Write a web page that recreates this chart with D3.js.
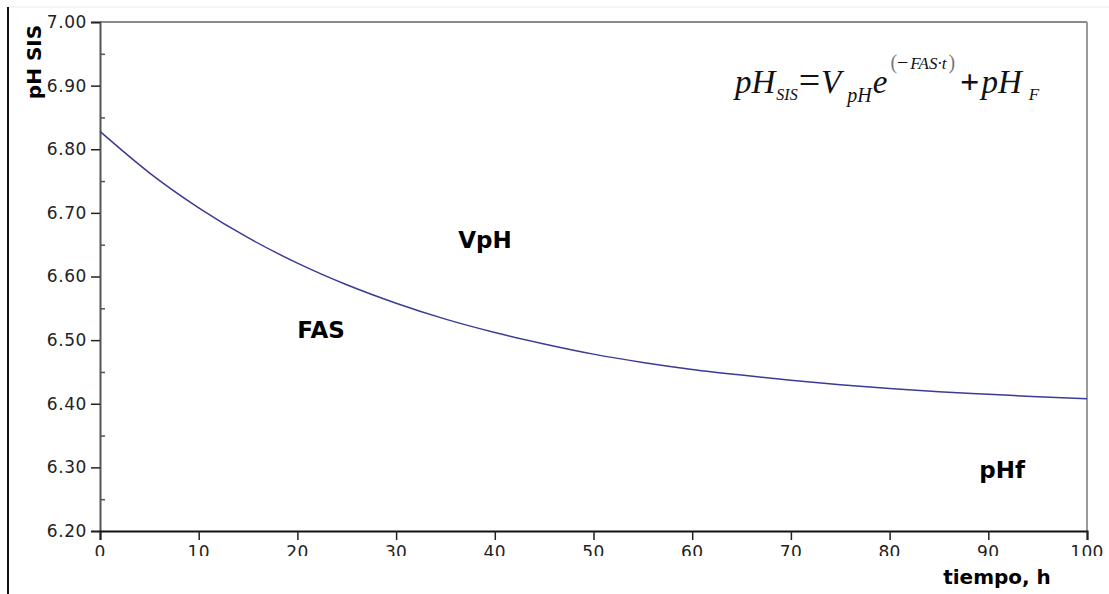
<!DOCTYPE html>
<html>
<head>
<meta charset="utf-8">
<script src="https://cdn.jsdelivr.net/npm/d3@7/dist/d3.min.js"></script>
<style>
body { margin: 0; background: #fff; }
svg { display: block; }
</style>
</head>
<body>
<div id="ChartWrapper"></div>
<script>
// values, every 5 h
const TimeHours = [0, 5, 10, 15, 20, 25, 30, 35, 40, 45, 50, 55, 60, 65, 70, 75, 80, 85, 90, 95, 100];
const PhSis = [6.828, 6.763, 6.708, 6.661, 6.621, 6.587, 6.558, 6.533, 6.512, 6.494, 6.478,
               6.465, 6.454, 6.445, 6.437, 6.430, 6.424, 6.419, 6.415, 6.411, 6.408];
const YTicks = [6.20, 6.30, 6.40, 6.50, 6.60, 6.70, 6.80, 6.90, 7.00];
const YMinorTicks = [6.25, 6.35, 6.45, 6.55, 6.65, 6.75, 6.85, 6.95];
const XTicks = [0, 10, 20, 30, 40, 50, 60, 70, 80, 90, 100];
const CurveLabels = ["VpH", "FAS", "pHf"];

const Width = 1109;
const Height = 594;
const Margin = {top: 22, right: 22, bottom: 63, left: 100};

let Svg = d3.select("#ChartWrapper").append("svg")
    .attr("width", Width).attr("height", Height);

let ScaleX = d3.scaleLinear().domain([0, 100]).range([Margin.left, Width - Margin.right]);
let ScaleY = d3.scaleLinear().domain([6.2, 7.0]).range([Height - Margin.bottom, Margin.top]);

// outer page frame (left rule and faint top rule)
Svg.append("line").attr("x1", 8).attr("x2", Width).attr("y1", 7).attr("y2", 7)
    .attr("stroke", "#ececec").attr("stroke-width", 1);
Svg.append("line").attr("x1", 8).attr("x2", 8).attr("y1", 7).attr("y2", Height)
    .attr("stroke", "#111").attr("stroke-width", 2);

// plot frame: top and right in grey
Svg.append("line").attr("x1", ScaleX(0)).attr("x2", ScaleX(100))
    .attr("y1", ScaleY(7.0)).attr("y2", ScaleY(7.0))
    .attr("stroke", "#8a8a8a").attr("stroke-width", 2);
Svg.append("line").attr("x1", ScaleX(100)).attr("x2", ScaleX(100))
    .attr("y1", ScaleY(7.0)).attr("y2", ScaleY(6.2))
    .attr("stroke", "#9a9a9a").attr("stroke-width", 2);

// y axis
let AxisY = d3.axisLeft(ScaleY).tickValues(YTicks).tickFormat(d3.format(".2f"))
    .tickSize(9).tickPadding(4);
let GY = Svg.append("g").attr("transform", `translate(${Margin.left}, 0)`).call(AxisY);
GY.attr("font-size", null).attr("font-family", null);
GY.select(".domain").attr("stroke", "#555").attr("stroke-width", 2);
GY.selectAll(".tick line").attr("stroke", "#222").attr("stroke-width", 1.5);
GY.selectAll(".tick text").attr("font-family", "DejaVu Sans").attr("font-size", 17)
    .attr("fill", "#222").attr("letter-spacing", 0.6);

let AxisYMinor = d3.axisRight(ScaleY).tickValues(YMinorTicks).tickFormat("").tickSize(5);
let GYMinor = Svg.append("g").attr("transform", `translate(${Margin.left}, 0)`).call(AxisYMinor);
GYMinor.select(".domain").remove();
GYMinor.selectAll(".tick line").attr("stroke", "#555").attr("stroke-width", 1.5);

// x axis
let AxisX = d3.axisBottom(ScaleX).tickValues(XTicks).tickSize(9).tickFormat("");
let GX = Svg.append("g").attr("transform", `translate(0, ${Height - Margin.bottom})`).call(AxisX);
GX.select(".domain").attr("stroke", "#111").attr("stroke-width", 2);
GX.selectAll(".tick line").attr("stroke", "#222").attr("stroke-width", 1.5);

// x labels get cut at the bottom as in the picture
Svg.append("clipPath").attr("id", "XLabelClip")
    .append("rect").attr("x", 0).attr("y", 0).attr("width", Width).attr("height", 556);
let XLabels = Svg.append("g").attr("clip-path", "url(#XLabelClip)");
XLabels.selectAll("text").data(XTicks).join("text")
    .attr("x", d => ScaleX(d)).attr("y", 558)
    .attr("text-anchor", "middle")
    .attr("font-family", "DejaVu Sans").attr("font-size", 17)
    .attr("letter-spacing", 0.4).attr("fill", "#222")
    .text(d => d);

// curve
let Line = d3.line()
    .x((d, i) => ScaleX(TimeHours[i]))
    .y(d => ScaleY(d))
    .curve(d3.curveMonotoneX);
Svg.append("path").attr("d", Line(PhSis))
    .attr("fill", "none").attr("stroke", "#3b3b94").attr("stroke-width", 1.5);

// axis titles
Svg.append("text").attr("transform", "translate(41, 62) rotate(-90)")
    .attr("text-anchor", "middle")
    .attr("font-family", "DejaVu Sans").attr("font-weight", "bold").attr("font-size", 20)
    .text("pH SIS");
Svg.append("text").attr("x", 997).attr("y", 584)
    .attr("text-anchor", "middle")
    .attr("font-family", "DejaVu Sans").attr("font-weight", "bold").attr("font-size", 20)
    .text("tiempo, h");

// curve annotations
let LabelSpots = [[39, 6.645], [22.4, 6.503], [91.4, 6.283]];
CurveLabels.forEach((lbl, i) =>
{
    Svg.append("text").attr("x", ScaleX(LabelSpots[i][0])).attr("y", ScaleY(LabelSpots[i][1]))
        .attr("text-anchor", "middle")
        .attr("font-family", "DejaVu Sans").attr("font-weight", "bold").attr("font-size", 23)
        .text(lbl);
});

// formula
let Formula = Svg.append("text").attr("x", 735).attr("y", 93)
    .attr("font-family", "Liberation Serif").attr("font-style", "italic")
    .attr("font-size", 33).attr("fill", "#111");
Formula.append("tspan").text("pH");
Formula.append("tspan").attr("font-size", 16).attr("dy", 7).attr("dx", 1).text("SIS");
Formula.append("tspan").attr("dy", -7).attr("dx", 1).attr("font-style", "normal")
    .attr("font-size", 38).text("=");
Formula.append("tspan").attr("dx", 1).text("V");
Formula.append("tspan").attr("font-size", 20).attr("dy", 9).attr("dx", 6).text("pH");
Formula.append("tspan").attr("dy", -9).attr("dx", 1).text("e");
Formula.append("tspan").attr("font-size", 20).attr("dy", -24).attr("dx", 3)
    .attr("font-style", "normal").attr("fill", "#777").text("(");
Formula.append("tspan").attr("font-size", 20).attr("font-style", "normal").text("\u2212");
Formula.append("tspan").attr("font-size", 17).attr("dx", 2).text("FAS\u00b7t");
Formula.append("tspan").attr("font-size", 20).attr("font-style", "normal").attr("dx", 2)
    .attr("fill", "#777").text(")");
Formula.append("tspan").attr("dy", 24).attr("dx", 5).attr("font-style", "normal")
    .attr("font-size", 34).attr("font-weight", "bold").text("+");
Formula.append("tspan").attr("dx", 2).text("pH");
Formula.append("tspan").attr("font-size", 17).attr("dy", 7).attr("dx", 7).text("F");
</script>
</body>
</html>
